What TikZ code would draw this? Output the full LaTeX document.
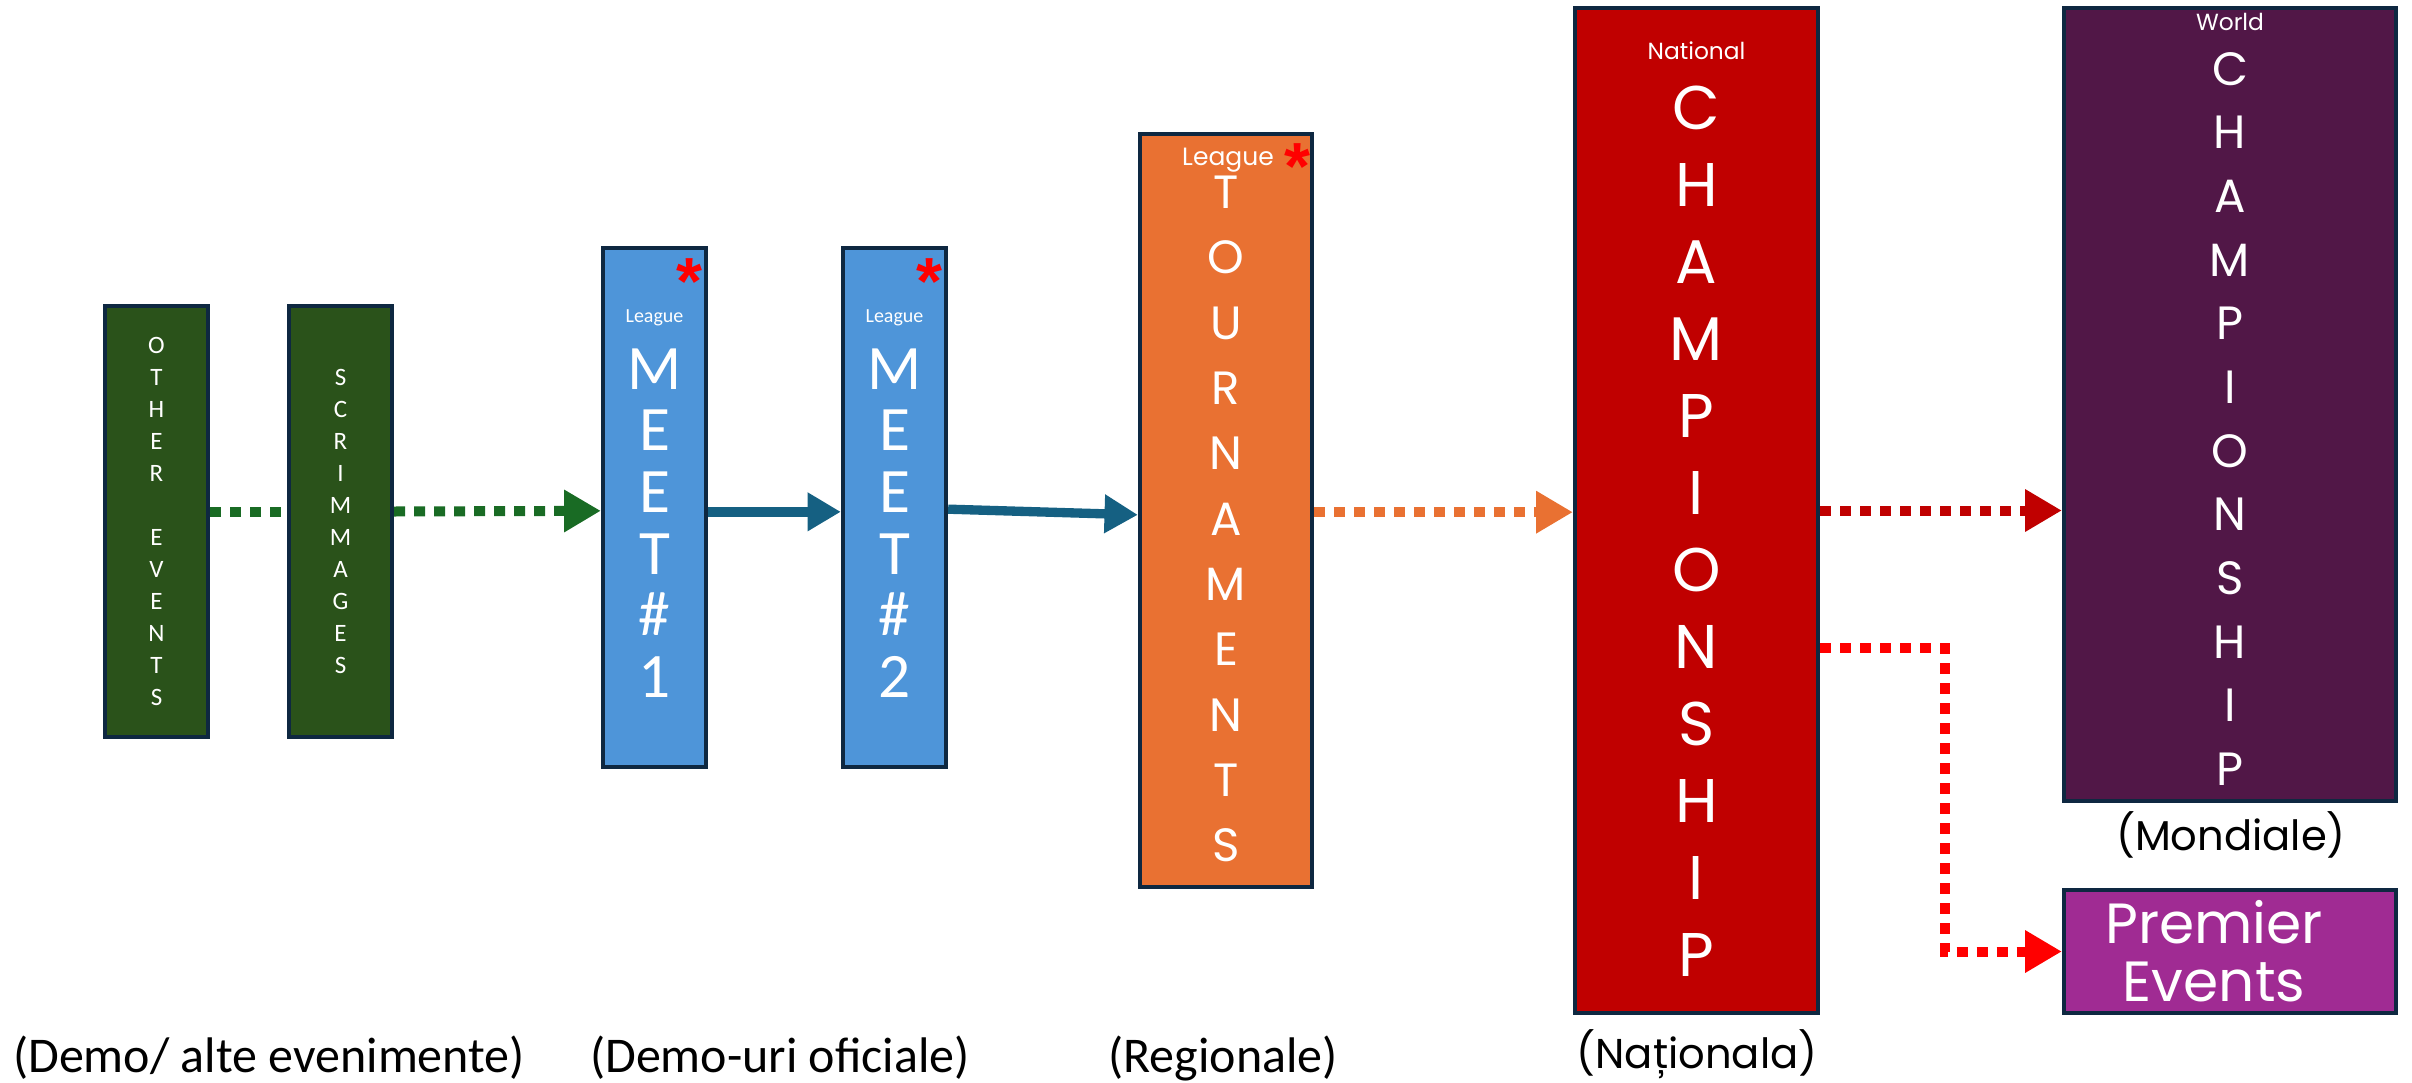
\documentclass[tikz,border=0pt]{standalone}
\usepackage{fontspec}
\setmainfont{Carlito}
\newfontfamily\geo{Poppins}
\newfontfamily\symf{Liberation Sans}
\usetikzlibrary{arrows.meta}
\definecolor{boxline}{HTML}{0E2841}
\definecolor{grnbox}{HTML}{2A521A}
\definecolor{grnarrow}{HTML}{196B24}
\definecolor{bluebox}{HTML}{4E95D9}
\definecolor{bluearrow}{HTML}{156082}
\definecolor{orangebox}{HTML}{E97132}
\definecolor{natred}{HTML}{C00000}
\definecolor{worldbox}{HTML}{511747}
\definecolor{prembox}{HTML}{A02B93}

\begin{document}
\begin{tikzpicture}[x=0.3pt,y=-0.3pt,
  evbox/.style={draw=boxline,line width=1.3pt,inner sep=0pt},
  letters/.style={text=white,align=center,inner sep=0pt},
  tag/.style={text=white,inner sep=0pt},
  ast/.style={text=red,inner sep=0pt,font=\symf\bfseries\fontsize{20}{20}\selectfont},
  dotline/.style={line width=3pt,dash pattern=on 3.3pt off 2.7pt},
  headed/.style={-{Triangle[length=11pt,width=12pt]}},
  solidarrow/.style={bluearrow,line width=2.8pt,-{Triangle[length=10pt,width=11pt]}},
  lbl/.style={inner sep=0pt}]
\useasboundingbox (0,0) rectangle (2412,1082);

% boxes
\node[evbox,fill=grnbox,minimum width=30.9pt,minimum height=129.3pt] (other) at (156.5,521.5) {};
\node[evbox,fill=grnbox,minimum width=30.9pt,minimum height=129.3pt] (scrim) at (340.5,521.5) {};
\node[evbox,fill=bluebox,minimum width=30.9pt,minimum height=155.7pt] (meet1) at (654.5,507.5) {};
\node[evbox,fill=bluebox,minimum width=30.9pt,minimum height=155.7pt] (meet2) at (894.5,507.5) {};
\node[evbox,fill=orangebox,minimum width=51.6pt,minimum height=225.9pt] (tour) at (1226,510.5) {};
\node[evbox,fill=natred,minimum width=72.9pt,minimum height=301.5pt] (nat) at (1696.5,510.5) {};
\node[evbox,fill=worldbox,minimum width=99.6pt,minimum height=237.9pt] (world) at (2230,404.5) {};
\node[evbox,fill=prembox,minimum width=99.6pt,minimum height=36.9pt] (prem) at (2230,951.5) {};

% texts in the boxes
\node[letters,font=\fontsize{7.5}{9.6}\selectfont] (otherTxt) at (156.5,521.5) {O\\T\\H\\E\\R\\[9.6pt]E\\V\\E\\N\\T\\S};
\node[letters,font=\fontsize{7.5}{9.6}\selectfont] (scrimTxt) at (340.5,521.5) {S\\C\\R\\I\\M\\M\\A\\G\\E\\S};
\node[tag,font=\fontsize{6}{6}\selectfont] (meet1Tag) at (654.5,318) {League};
\node[letters,font=\fontsize{19}{18.5}\selectfont] (meet1Txt) at (654.5,523) {M\\E\\E\\T\\\#\\1};
\node[ast] (meet1Ast) at (689,282) {*};
\node[tag,font=\fontsize{6}{6}\selectfont] (meet2Tag) at (894.5,318) {League};
\node[letters,font=\fontsize{19}{18.5}\selectfont] (meet2Txt) at (894.5,523) {M\\E\\E\\T\\\#\\2};
\node[ast] (meet2Ast) at (929,282) {*};
\node[tag,font=\geo\fontsize{7.5}{7.5}\selectfont] (tourTag) at (1228,160) {League};
\node[ast] (tourAst) at (1297,167) {*};
\node[letters,font=\geo\fontsize{14}{19.6}\selectfont] (tourTxt) at (1226,519) {T\\O\\U\\R\\N\\A\\M\\E\\N\\T\\S};
\node[tag,font=\geo\fontsize{7}{7}\selectfont] (natTag) at (1696.5,51) {National};
\node[letters,font=\geo\fontsize{18.5}{23.1}\selectfont] (natTxt) at (1696.5,531) {C\\H\\A\\M\\P\\I\\O\\N\\S\\H\\I\\P};
\node[tag,font=\geo\fontsize{7}{7}\selectfont] (worldTag) at (2230,22) {World};
\node[letters,font=\geo\fontsize{14}{19.1}\selectfont] (worldTxt) at (2230,419) {C\\H\\A\\M\\P\\I\\O\\N\\S\\H\\I\\P};
\node[letters,font=\geo\fontsize{17}{17.5}\selectfont] (premTxt) at (2214,951.5) {Premier\\Events};

% captions
\node[lbl,font=\fontsize{15}{15}\selectfont] (capDemo) at (269,1058) {(Demo/ alte evenimente)};
\node[lbl,font=\fontsize{15}{15}\selectfont] (capOfic) at (780,1058) {(Demo-uri oficiale)};
\node[lbl,font=\fontsize{15}{15}\selectfont] (capReg) at (1223,1058) {(Regionale)};
\node[lbl,font=\geo\fontsize{12.5}{12.5}\selectfont] (capNat) at (1697,1054) {(Naționala)};
\node[lbl,font=\geo\fontsize{12.5}{12.5}\selectfont] (capWorld) at (2231,835) {(Mondiale)};

% connectors
\draw[dotline,grnarrow] ([yshift=3pt]other.east) -- ([yshift=3pt]scrim.west);
\draw[dotline,grnarrow,headed] ([yshift=3pt]scrim.east) -- ([yshift=-1pt]meet1.west);
\draw[solidarrow] ([yshift=-1.3pt]meet1.east) -- ([yshift=-1.3pt]meet2.west);
\draw[solidarrow] ([yshift=-0.5pt]meet2.east) -- ([yshift=-1.3pt]tour.west);
\draw[dotline,orangebox,headed] ([yshift=-0.5pt]tour.east) -- ([yshift=-0.5pt]nat.west);
\draw[dotline,natred,headed] (nat.east) -- (nat.east -| world.west);
\draw[dotline,red,headed] ([yshift=-41.25pt]nat.east) -- ++(125,0) |- (prem.west);
\end{tikzpicture}
\end{document}
